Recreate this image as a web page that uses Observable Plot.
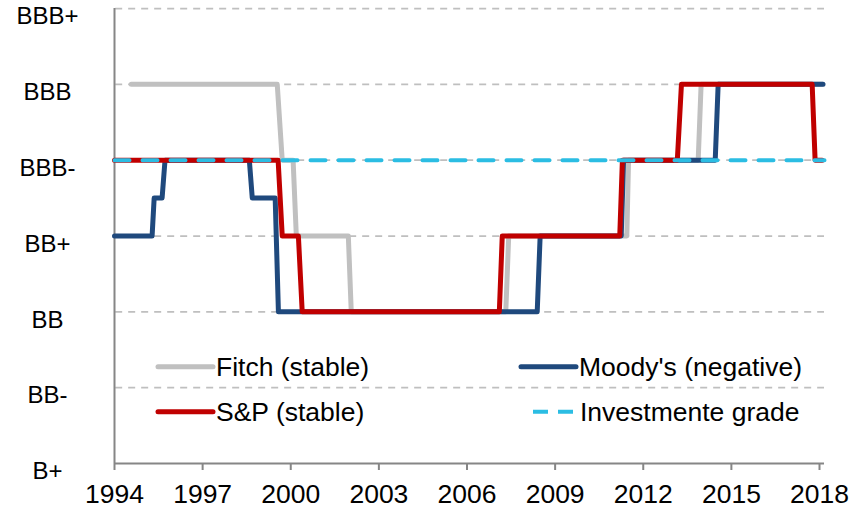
<!DOCTYPE html>
<html>
<head>
<meta charset="utf-8">
<script src="https://cdn.jsdelivr.net/npm/d3@7"></script>
<script src="https://cdn.jsdelivr.net/npm/@observablehq/plot@0.6"></script>
<style>
  html, body { margin: 0; padding: 0; background: #fff; }
  #wrap { position: relative; width: 865px; height: 513px; font-family: "Liberation Sans", Arial, sans-serif; }
  #legend { position: absolute; left: 0; top: 0; pointer-events: none; }
</style>
</head>
<body>
<div id="wrap"></div>
<script>
// Rating scale (index 0 = B+ ... 6 = BBB+)
const ratings = ["B+", "BB-", "BB", "BB+", "BBB-", "BBB", "BBB+"];
const yearTicks = [1994, 1997, 2000, 2003, 2006, 2009, 2012, 2015, 2018];

// Series: [year, rating index] vertices
const fitch = [
  [1994.57, 5], [1999.54, 5], [1999.71, 4], [2000.08, 4], [2000.19, 3],
  [2001.96, 3], [2002.06, 2], [2007.32, 2], [2007.42, 3], [2011.44, 3],
  [2011.5, 4], [2013.87, 4], [2013.97, 5], [2018.1, 5]
];
const moodys = [
  [1994.0, 3], [1995.28, 3], [1995.35, 3.5], [1995.62, 3.5], [1995.72, 4],
  [1998.59, 4], [1998.69, 3.5], [1999.47, 3.5], [1999.58, 2], [2008.39, 2],
  [2008.49, 3], [2011.25, 3], [2011.33, 4], [2014.45, 4], [2014.55, 5],
  [2018.12, 5]
];
const sp = [
  [1994.0, 4], [1999.57, 4], [1999.71, 3], [2000.26, 3], [2000.39, 2],
  [2007.1, 2], [2007.2, 3], [2011.2, 3], [2011.29, 4], [2013.16, 4],
  [2013.3, 5], [2017.75, 5], [2017.85, 4], [2018.09, 4]
];
const investmentGrade = [[1994.0, 4], [2018.17, 4]];

const seriesNames = ["Fitch (stable)", "Moody's (negative)", "S&P (stable)", "Investmente grade"];
const colors = { fitch: "#c0c0c0", moodys: "#1f497d", sp: "#c00000", ig: "#2bbde3" };

const toRows = arr => arr.map(([year, r]) => ({ year, r }));
const font = "'Liberation Sans', Arial, sans-serif";

const chart = Plot.plot({
  width: 865,
  height: 513,
  marginLeft: 114,
  marginRight: 41,
  marginTop: 8,
  marginBottom: 50,
  style: { fontFamily: font, color: "#000", background: "#fff", overflow: "visible" },
  x: { domain: [1994, 2018.17], label: null },
  y: { domain: [0, 6], label: null },
  marks: [
    Plot.ruleY([1, 2, 3, 4, 5, 6], { x1: 1994.04, x2: 2018.17, stroke: "#bfbfbf", strokeWidth: 1.75, strokeDasharray: "7,6" }),
    Plot.ruleX([1994], { y1: 0, y2: 6, stroke: "#868686", strokeWidth: 2 }),
    Plot.ruleY([0], { x1: 1994, x2: 2018.17, stroke: "#868686", strokeWidth: 2 }),
    Plot.axisX({ ticks: yearTicks, tickFormat: d => String(d), tickSize: 7, tickPadding: 14, stroke: "#868686", strokeWidth: 2, fontSize: 26.5, fill: "#000", label: null }),
    Plot.axisY({ ticks: [0, 1, 2, 3, 4, 5, 6], tickFormat: d => ratings[d], tickSize: 0, tickPadding: 67, textAnchor: "middle", fontSize: 24, dy: 8, fill: "#000", label: null }),
    Plot.line(toRows(fitch), { x: "year", y: "r", stroke: colors.fitch, strokeWidth: 5, strokeLinejoin: "round", strokeLinecap: "round" }),
    Plot.line(toRows(moodys), { x: "year", y: "r", stroke: colors.moodys, strokeWidth: 5, strokeLinejoin: "round", strokeLinecap: "round" }),
    Plot.line(toRows(sp), { x: "year", y: "r", stroke: colors.sp, strokeWidth: 5, strokeLinejoin: "round", strokeLinecap: "round" }),
    Plot.line(toRows(investmentGrade), { x: "year", y: "r", stroke: colors.ig, strokeWidth: 4, strokeDasharray: "15,13" })
  ]
});

const wrap = document.getElementById("wrap");
wrap.appendChild(chart);

// Legend (inside the plot area, two columns)
const legendItems = [
  { label: seriesNames[0], color: colors.fitch, dashed: false, sx: 158, tx: 216, row: 0 },
  { label: seriesNames[1], color: colors.moodys, dashed: false, sx: 521, tx: 579, row: 0 },
  { label: seriesNames[2], color: colors.sp, dashed: false, sx: 158, tx: 216, row: 1 },
  { label: seriesNames[3], color: colors.ig, dashed: true, sx: 533, tx: 580, row: 1 }
];
const rowY = [366.7, 411.7];
const ns = "http://www.w3.org/2000/svg";
const lg = document.createElementNS(ns, "svg");
lg.setAttribute("id", "legend");
lg.setAttribute("width", 865);
lg.setAttribute("height", 513);
for (const it of legendItems) {
  const y = rowY[it.row];
  const ln = document.createElementNS(ns, "line");
  ln.setAttribute("y1", y); ln.setAttribute("y2", y);
  if (it.dashed) {
    ln.setAttribute("x1", it.sx); ln.setAttribute("x2", it.sx + 40);
    ln.setAttribute("stroke-width", 4);
    ln.setAttribute("stroke-dasharray", "15,10");
  } else {
    ln.setAttribute("x1", it.sx); ln.setAttribute("x2", it.sx + 55);
    ln.setAttribute("stroke-width", 5);
    ln.setAttribute("stroke-linecap", "round");
  }
  ln.setAttribute("stroke", it.color);
  lg.appendChild(ln);
  const tx = document.createElementNS(ns, "text");
  tx.setAttribute("x", it.tx);
  tx.setAttribute("y", y + 9.5);
  tx.setAttribute("font-size", 26.5);
  tx.setAttribute("font-family", font);
  tx.setAttribute("fill", "#000");
  tx.textContent = it.label;
  lg.appendChild(tx);
}
wrap.appendChild(lg);
</script>
</body>
</html>
